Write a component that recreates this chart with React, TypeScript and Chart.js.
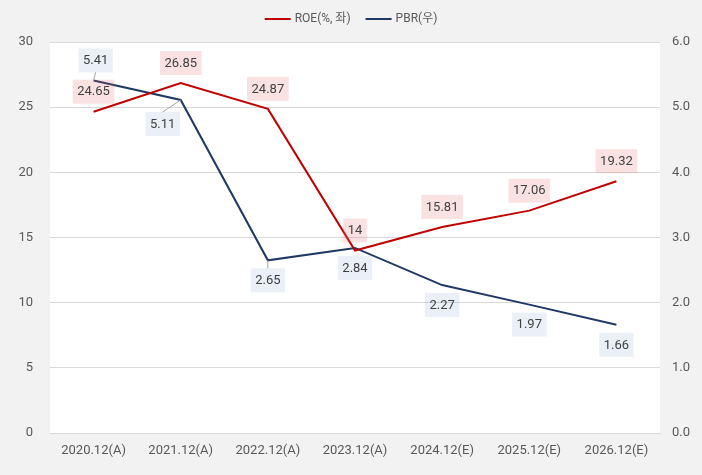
import React, { useEffect, useRef } from "react";
import { Chart, registerables } from "chart.js";

Chart.register(...registerables);

const categories = ["2020.12(A)", "2021.12(A)", "2022.12(A)", "2023.12(A)", "2024.12(E)", "2025.12(E)", "2026.12(E)"];
const roeValues = [24.65, 26.85, 24.87, 14, 15.81, 17.06, 19.32];
const pbrValues = [5.41, 5.11, 2.65, 2.84, 2.27, 1.97, 1.66];
const roeLabels = ["24.65", "26.85", "24.87", "14", "15.81", "17.06", "19.32"];
const pbrLabels = ["5.41", "5.11", "2.65", "2.84", "2.27", "1.97", "1.66"];
const seriesNames = ["ROE(%, 좌)", "PBR(우)"];

const FONT = 'Roboto, "Noto Sans CJK KR", sans-serif';
const RED = "rgb(192,0,0)";
const NAVY = "rgb(31,56,100)";
const TXT = "#595959";

// label placement per series (direction, extra dx, extra dy, leader line)
const roePlace = roeValues.map(() => ({ dir: -1, dx: 0, dy: 0, leader: false }));
const pbrPlace = [
  { dir: -1, dx: 2, dy: 0, leader: true },
  { dir: 1, dx: -18, dy: 4, leader: true },
  { dir: 1, dx: 0, dy: 0, leader: true },
  { dir: 1, dx: 0, dy: 0, leader: false },
  { dir: 1, dx: 0, dy: 0, leader: false },
  { dir: 1, dx: 0, dy: 0, leader: false },
  { dir: 1, dx: 0, dy: 0, leader: false },
];

const bgPlugin = {
  id: "bgPlugin",
  beforeDraw(chart: any) {
    const { ctx, chartArea } = chart;
    ctx.save();
    ctx.fillStyle = "#f2f2f2";
    ctx.fillRect(0, 0, chart.width, chart.height);
    ctx.fillStyle = "#ffffff";
    ctx.fillRect(chartArea.left, chartArea.top, chartArea.right - chartArea.left, chartArea.bottom - chartArea.top);
    ctx.restore();
  },
};

const legendPlugin = {
  id: "legendPlugin",
  afterDraw(chart: any) {
    const { ctx } = chart;
    ctx.save();
    ctx.font = `12px ${FONT}`;
    const lineW = 26, gap = 4, itemGap = 15;
    const w0 = ctx.measureText(seriesNames[0]).width;
    const w1 = ctx.measureText(seriesNames[1]).width;
    const total = lineW + gap + w0 + itemGap + lineW + gap + w1;
    let x = chart.width / 2 - total / 2;
    const y = 19;
    const colors = [RED, NAVY];
    const widths = [w0, w1];
    for (let i = 0; i < 2; i++) {
      ctx.strokeStyle = colors[i];
      ctx.lineWidth = 2;
      ctx.beginPath();
      ctx.moveTo(x, y);
      ctx.lineTo(x + lineW, y);
      ctx.stroke();
      x += lineW + gap;
      ctx.fillStyle = TXT;
      ctx.textBaseline = "middle";
      ctx.textAlign = "left";
      ctx.fillText(seriesNames[i], x, y);
      x += widths[i] + itemGap;
    }
    ctx.restore();
  },
};

const labelPlugin = {
  id: "labelPlugin",
  afterDatasetsDraw(chart: any) {
    const { ctx } = chart;
    const sets = [
      { meta: chart.getDatasetMeta(0), labels: roeLabels, place: roePlace, bg: "rgba(232,110,110,0.2)" },
      { meta: chart.getDatasetMeta(1), labels: pbrLabels, place: pbrPlace, bg: "rgba(90,130,200,0.13)" },
    ];
    ctx.save();
    ctx.font = `13px ${FONT}`;
    for (const s of sets) {
      s.meta.data.forEach((pt: any, i: number) => {
        const text = s.labels[i];
        const p = s.place[i];
        const tw = ctx.measureText(text).width;
        const bw = tw + 9;
        const bh = 24;
        const gapPx = 8 + p.dy;
        const cx = pt.x + p.dx;
        const cy = p.dir < 0 ? pt.y - gapPx - bh / 2 : pt.y + gapPx + bh / 2;
        if (p.leader) {
          ctx.strokeStyle = "#a6a6a6";
          ctx.lineWidth = 1;
          ctx.beginPath();
          const ey = p.dir < 0 ? cy + bh / 2 : cy - bh / 2;
          ctx.moveTo(cx, ey);
          ctx.lineTo(pt.x, pt.y);
          ctx.stroke();
        }
        ctx.fillStyle = s.bg;
        ctx.fillRect(cx - bw / 2, cy - bh / 2, bw, bh);
        ctx.fillStyle = "#404040";
        ctx.textAlign = "center";
        ctx.textBaseline = "middle";
        ctx.fillText(text, cx, cy + 0.5);
      });
    }
    ctx.restore();
  },
};

export default function App() {
  const ref = useRef<HTMLCanvasElement | null>(null);
  useEffect(() => {
    if (!ref.current) return;
    const chart = new Chart(ref.current, {
      type: "line",
      data: {
        labels: categories,
        datasets: [
          {
            label: seriesNames[0],
            data: roeValues,
            borderColor: RED,
            backgroundColor: RED,
            borderWidth: 2,
            pointRadius: 0,
            tension: 0,
            yAxisID: "y",
          },
          {
            label: seriesNames[1],
            data: pbrValues,
            borderColor: NAVY,
            backgroundColor: NAVY,
            borderWidth: 2,
            pointRadius: 0,
            tension: 0,
            yAxisID: "y1",
          },
        ],
      },
      options: {
        animation: false,
        responsive: false,
        maintainAspectRatio: false,
        layout: { padding: { top: 42, left: 0, right: 0, bottom: 0 } },
        plugins: { legend: { display: false }, tooltip: { enabled: false } },
        scales: {
          x: {
            offset: true,
            grid: { display: false, drawTicks: false },
            border: { display: true, color: "#d9d9d9", width: 1 },
            ticks: { color: TXT, font: { family: FONT, size: 13 }, padding: 10, maxRotation: 0, autoSkip: false },
            afterFit: (s: any) => { s.height = 42; },
          },
          y: {
            position: "left",
            min: 0,
            max: 30,
            grid: { color: "#d9d9d9", drawTicks: false },
            border: { display: false },
            ticks: { stepSize: 5, color: TXT, font: { family: FONT, size: 13 }, padding: 17 },
            afterFit: (s: any) => { s.width = 50; },
          },
          y1: {
            position: "right",
            min: 0,
            max: 6,
            grid: { display: false, drawTicks: false },
            border: { display: false },
            ticks: {
              stepSize: 1,
              color: TXT,
              font: { family: FONT, size: 13 },
              padding: 12,
              callback: (v: any) => Number(v).toFixed(1),
            },
            afterFit: (s: any) => { s.width = 42; },
          },
        },
      },
      plugins: [bgPlugin, labelPlugin, legendPlugin],
    });
    return () => chart.destroy();
  }, []);
  return (
    <div style={{ position: "fixed", left: 0, top: 0, width: 702, height: 475 }}>
      <canvas ref={ref} width={702} height={475} style={{ display: "block" }} />
    </div>
  );
}
